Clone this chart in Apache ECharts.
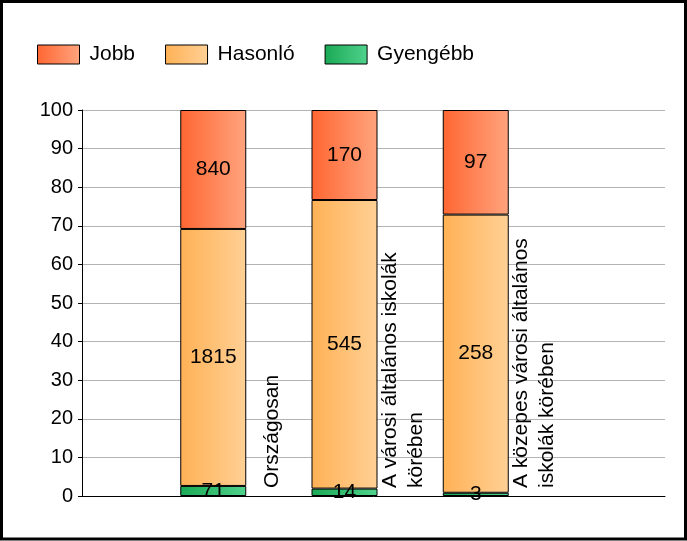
<!DOCTYPE html>
<html>
<head>
<meta charset="utf-8">
<script src="https://cdn.jsdelivr.net/npm/echarts@6/dist/echarts.min.js"></script>
<style>
  html, body { margin: 0; padding: 0; background: #fff; }
  #chart { width: 687px; height: 541px; }
</style>
</head>
<body>
<div id="chart"></div>
<script>
// adatok
const categories = ['Országosan', 'A városi általános iskolák\nkörében', 'A közepes városi általános\niskolák körében'];
const jobb = [840, 170, 97];
const hasonlo = [1815, 545, 258];
const gyengebb = [71, 14, 3];
const yTicks = [0, 10, 20, 30, 40, 50, 60, 70, 80, 90, 100];

const font = 'Liberation Sans, Arial, sans-serif';
const totals = categories.map((c, i) => jobb[i] + hasonlo[i] + gyengebb[i]);
// üres hely a két szélén
const pad = (arr) => ['-', ...arr, '-'];
const toItems = (arr) => pad(arr.map((v, i) => ({ value: v / totals[i] * 100, count: v })));

const grad = (a, b) => ({
  type: 'linear', x: 0, y: 0, x2: 1, y2: 0,
  colorStops: [{ offset: 0, color: a }, { offset: 1, color: b }]
});

const barSeries = (name, arr, color) => ({
  name: name,
  type: 'bar',
  stack: 'total',
  xAxisIndex: 1,
  yAxisIndex: 1,
  barWidth: 66,
  data: toItems(arr),
  itemStyle: { color: color, borderColor: '#000', borderWidth: 1 },
  label: {
    show: true,
    position: 'inside',
    color: '#000',
    fontSize: 21,
    fontFamily: font,
    formatter: (p) => p.data.count
  }
});

const myChart = echarts.init(document.getElementById('chart'));
const option = {
  animation: false,
  backgroundColor: '#fff',
  graphic: [{
    type: 'rect',
    shape: { x: 1.5, y: 1.5, width: 684, height: 537.5 },
    style: { fill: 'none', stroke: '#000', lineWidth: 3 },
    z: 100
  }],
  legend: {
    data: ['Jobb', 'Hasonló', 'Gyengébb'],
    left: 37,
    top: 44,
    padding: 0,
    icon: 'rect',
    itemWidth: 42,
    itemHeight: 19,
    itemGap: 30,
    itemStyle: { borderColor: '#000', borderWidth: 1 },
    textStyle: { fontSize: 21, fontFamily: font, color: '#000', padding: [0, 0, 0, 5] }
  },
  grid: [
    { left: 82, right: 22, top: 110, bottom: 45 },
    { left: 82, width: 525, top: 110, bottom: 45 },
    { left: 140.5, width: 525, top: 110, bottom: 45 }
  ],
  xAxis: [
    {
      gridIndex: 0, type: 'value', min: 0, max: 1,
      axisLine: { show: true, lineStyle: { color: '#000', width: 1 } },
      axisTick: { show: false }, axisLabel: { show: false }, splitLine: { show: false }
    },
    {
      gridIndex: 1, type: 'category', boundaryGap: false, data: pad(categories.map(() => '')),
      axisLine: { show: false }, axisTick: { show: false }, axisLabel: { show: false }
    },
    {
      gridIndex: 2, type: 'category', boundaryGap: false, data: ['', ...categories, ''],
      axisLine: { show: false }, axisTick: { show: false },
      axisLabel: {
        inside: true, rotate: 90, interval: 0, margin: 8,
        fontSize: 21, lineHeight: 26, fontFamily: font, color: '#000'
      }
    }
  ],
  yAxis: [
    {
      gridIndex: 0, type: 'value', min: yTicks[0], max: yTicks[yTicks.length - 1], interval: 10,
      axisLine: { show: true, lineStyle: { color: '#000', width: 1 } },
      axisTick: { show: true, length: 4, lineStyle: { color: '#000' } },
      axisLabel: { fontSize: 20, fontFamily: font, color: '#000', margin: 9 },
      splitLine: { show: true, lineStyle: { color: '#b4b4b4', width: 1 } }
    },
    { gridIndex: 1, type: 'value', min: 0, max: 100, show: false },
    { gridIndex: 2, type: 'value', min: 0, max: 100, show: false }
  ],
  series: [
    barSeries('Gyengébb', gyengebb, grad('#1aa955', '#50d28c')),
    barSeries('Hasonló', hasonlo, grad('#ffb155', '#ffd095')),
    barSeries('Jobb', jobb, grad('#ff6632', '#ffa47e'))
  ]
};
myChart.setOption(option);
</script>
</body>
</html>
